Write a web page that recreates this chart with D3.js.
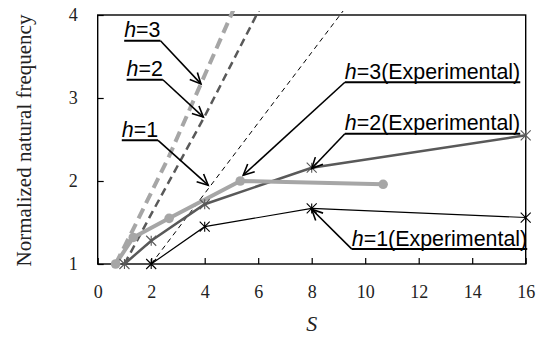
<!DOCTYPE html>
<html>
<head>
<meta charset="utf-8">
<script src="https://cdn.jsdelivr.net/npm/d3@7"></script>
<style>
  html, body { margin: 0; padding: 0; background: #fff; }
  svg { display: block; }
</style>
</head>
<body>
<svg id="chart" width="542" height="338"></svg>
<script>
// Experimental series
const sH3 = [0.67, 1.33, 2.67, 5.33, 10.67];
const fH3 = [1.0, 1.32, 1.55, 2.0, 1.96];
const sH2 = [1, 2, 4, 8, 16];
const fH2 = [1.0, 1.28, 1.72, 2.16, 2.55];
const sH1 = [2, 4, 8, 16];
const fH1 = [1.0, 1.45, 1.67, 1.56];

// Theoretical lines
const sTheoH3 = [0.67, 1.33, 2.67, 5.33];
const fTheoH3 = [1.0, 1.42, 2.3, 4.25];
const sTheoH2 = [1, 2, 4, 8];
const fTheoH2 = [1.0, 1.6, 2.78, 5.3];
const sTheoH1 = [2, 4, 8, 16];
const fTheoH1 = [1.0, 1.85, 3.55, 6.95];

// Axis ticks
const xTicks = [0, 2, 4, 6, 8, 10, 12, 14, 16];
const yTicks = [1, 2, 3, 4];

// Callout labels: text, label anchor (S, f), arrow tip (S, f), side of leader
const noteText = ["3", "2", "1", "3(Experimental)", "2(Experimental)", "1(Experimental)"];
const noteAt = [[0.99, 3.69], [1.08, 3.22], [0.9, 2.49], [9.24, 3.19], [9.24, 2.57], [9.5, 1.18]];
const noteTip = [[3.86, 3.17], [3.95, 2.77], [4.13, 1.95], [5.44, 2.07], [8.0, 2.15], [8.0, 1.66]];
const noteFrom = ["right", "right", "right", "left", "left", "left"];

const svg = d3.select("#chart");
const pLeft = 97.7, pRight = 525.7, pTop = 15, pBottom = 264;
const x = d3.scaleLinear().domain([0, 16]).range([pLeft, pRight]);
const y = d3.scaleLinear().domain([1, 4]).range([pBottom, pTop]);

const light = "#a6a6a6", dark = "#595959";
const serif = "'Liberation Serif', 'Times New Roman', serif";

svg.append("defs").append("clipPath").attr("id", "plotclip")
  .append("rect").attr("x", pLeft).attr("y", pTop - 4)
  .attr("width", pRight - pLeft).attr("height", pBottom - pTop + 4);

// axes with inward ticks
const fmt = d3.format("d");
const xAxis = svg.append("g").attr("transform", `translate(0,${pBottom})`)
  .call(d3.axisBottom(x).tickValues(xTicks).tickFormat(fmt).tickSizeInner(-6).tickSizeOuter(0).tickPadding(21));
const yAxis = svg.append("g").attr("transform", `translate(${pLeft},0)`)
  .call(d3.axisLeft(y).tickValues(yTicks).tickFormat(fmt).tickSizeInner(-6).tickSizeOuter(0).tickPadding(19));
[xAxis, yAxis].forEach(g => {
  g.attr("font-family", null).attr("font-size", null);
  g.select(".domain").remove();
  g.selectAll("line").attr("stroke", "#000").attr("stroke-width", 1.2);
  g.selectAll("text").style("font-family", serif).style("font-size", "18px").attr("fill", "#222");
});
yAxis.selectAll("text").attr("text-anchor", "middle").attr("dx", "-0.3em");

// plot frame
svg.append("rect").attr("x", pLeft).attr("y", pTop)
  .attr("width", pRight - pLeft).attr("height", pBottom - pTop)
  .attr("fill", "none").attr("stroke", "#000").attr("stroke-width", 1.4);

const plot = svg.append("g").attr("clip-path", "url(#plotclip)");
const line = d3.line().x(d => x(d[0])).y(d => y(d[1]));
const zip = (a, b) => a.map((v, i) => [v, b[i]]);

// theoretical dashed lines
plot.append("path").datum(zip(sTheoH1, fTheoH1)).attr("d", line)
  .attr("fill", "none").attr("stroke", "#000").attr("stroke-width", 1).attr("stroke-dasharray", "5,4");
plot.append("path").datum(zip(sTheoH2, fTheoH2)).attr("d", line)
  .attr("fill", "none").attr("stroke", dark).attr("stroke-width", 2.5).attr("stroke-dasharray", "8,5");
plot.append("path").datum(zip(sTheoH3, fTheoH3)).attr("d", line)
  .attr("fill", "none").attr("stroke", light).attr("stroke-width", 4).attr("stroke-dasharray", "11,6");

// experimental lines
const gExp = svg.append("g");
gExp.append("path").datum(zip(sH1, fH1)).attr("d", line)
  .attr("fill", "none").attr("stroke", "#000").attr("stroke-width", 1.2);
gExp.append("path").datum(zip(sH2, fH2)).attr("d", line)
  .attr("fill", "none").attr("stroke", dark).attr("stroke-width", 2.5);
gExp.append("path").datum(zip(sH3, fH3)).attr("d", line)
  .attr("fill", "none").attr("stroke", light).attr("stroke-width", 4);

// star markers
function stars(data, color) {
  const r = 5;
  const g = gExp.append("g").attr("stroke", color).attr("stroke-width", 1.1).attr("fill", "none");
  data.forEach(d => {
    const cx = x(d[0]), cy = y(d[1]);
    g.append("path").attr("d",
      `M${cx - r},${cy - r}L${cx + r},${cy + r}M${cx - r},${cy + r}L${cx + r},${cy - r}M${cx},${cy - r}L${cx},${cy + r}`);
  });
}
stars(zip(sH1, fH1), "#000");
stars(zip(sH2, fH2), dark);
gExp.append("g").selectAll("circle").data(zip(sH3, fH3)).join("circle")
  .attr("cx", d => x(d[0])).attr("cy", d => y(d[1])).attr("r", 4.8).attr("fill", light);

// callouts
const gNote = svg.append("g");
noteText.forEach((t, i) => {
  const ax = x(noteAt[i][0]), ay = y(noteAt[i][1]);
  const txt = gNote.append("text").attr("x", ax).attr("y", ay - 3.5)
    .attr("font-family", "'Liberation Sans', Arial, sans-serif").attr("font-size", 21.4).attr("fill", "#000");
  txt.append("tspan").attr("font-style", "italic").text("h");
  txt.append("tspan").text("=" + t);
  const w = txt.node().getComputedTextLength();
  gNote.append("line").attr("x1", ax).attr("x2", ax + w).attr("y1", ay).attr("y2", ay)
    .attr("stroke", "#000").attr("stroke-width", 2);
  const sx = noteFrom[i] === "right" ? ax + w : ax;
  const tx = x(noteTip[i][0]), ty = y(noteTip[i][1]);
  gNote.append("line").attr("x1", sx).attr("y1", ay).attr("x2", tx).attr("y2", ty)
    .attr("stroke", "#000").attr("stroke-width", 1.6);
  // open arrowhead
  const ang = Math.atan2(ty - ay, tx - sx), L = 12, spread = 0.45;
  const p1 = [tx - L * Math.cos(ang - spread), ty - L * Math.sin(ang - spread)];
  const p2 = [tx - L * Math.cos(ang + spread), ty - L * Math.sin(ang + spread)];
  gNote.append("path").attr("d", `M${p1[0]},${p1[1]}L${tx},${ty}L${p2[0]},${p2[1]}`)
    .attr("fill", "none").attr("stroke", "#000").attr("stroke-width", 1.6);
});

// axis titles
svg.append("text").attr("x", x(8)).attr("y", 331)
  .attr("text-anchor", "middle").attr("font-family", serif)
  .attr("font-style", "italic").attr("font-size", 22).attr("fill", "#222").text("S");
svg.append("text").attr("transform", `translate(31,${(pTop + pBottom) / 2 + 1}) rotate(-90)`)
  .attr("text-anchor", "middle").attr("font-family", serif)
  .attr("font-size", 21).attr("fill", "#222").text("Normalized natural frequency");
</script>
</body>
</html>
